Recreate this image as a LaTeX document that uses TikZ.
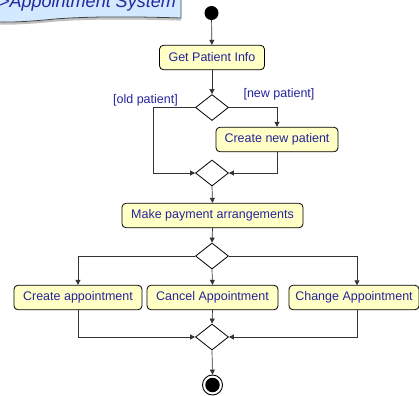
\documentclass[tikz,border=0pt]{standalone}
\usepackage{fontspec}
\setmainfont{Liberation Sans}
\usetikzlibrary{shapes.geometric,arrows.meta}
\definecolor{actfill}{HTML}{FFFFC6}
\definecolor{labelblue}{HTML}{25259C}
\definecolor{notefill}{HTML}{D3E9FF}
\tikzset{
  action/.style={draw=black, line width=0.8bp, fill=actfill, rounded corners=4bp,
    minimum height=24.5bp, inner sep=0pt, text=labelblue,
    font=\fontsize{12.5bp}{15bp}\selectfont},
  branch/.style={draw=black, line width=0.8bp, fill=white, diamond, inner sep=0pt,
    minimum width=33bp, minimum height=26bp},
  guard/.style={text=labelblue, inner sep=0pt, font=\fontsize{12.5bp}{15bp}\selectfont},
  flow/.style={draw=black!80, line width=0.7bp, -{Triangle[length=5bp,width=5bp]}},
  link/.style={draw=black!80, line width=0.7bp}
}
\begin{document}
\begin{tikzpicture}[x=1bp,y=-1bp]
\useasboundingbox (0,0) rectangle (419,396);
\clip (0,0) rectangle (419,396);
\fill[white] (0,0) rectangle (419,396);

% package note in the top left corner
\draw[black!25, line width=2.2bp] (181,19.5) .. controls (120,17.5) and (80,18.5) .. (55,20.5)
  .. controls (35,22.5) and (15,24) .. (-3,23.5);
\filldraw[fill=notefill, draw=black!75, line width=0.8bp]
  (-3,-5) -- (181,-5) -- (181,18) .. controls (120,16) and (80,17) .. (55,19)
  .. controls (35,21) and (15,22.5) .. (-3,22) -- cycle;
\node[anchor=base west, inner sep=0pt, text=labelblue,
  font=\fontsize{18bp}{21bp}\selectfont\itshape] (title) at (-1,7.5) {>Appointment System};

% nodes
\node[circle, fill=black, minimum size=14bp, inner sep=0pt] (start) at (211.5,13) {};
\node[action, minimum width=105bp] (getinfo) at (212,57.5) {Get Patient Info};
\node[branch] (d1) at (212,107.5) {};
\node[action, minimum width=122bp] (newpat) at (277,139.5) {Create new patient};
\node[branch] (m1) at (212,173) {};
\node[action, minimum width=181bp] (pay) at (212.5,215.5) {Make payment arrangements};
\node[branch] (d2) at (212,256) {};
\node[action, minimum width=128bp] (create) at (78,297.5) {Create appointment};
\node[action, minimum width=131bp] (cancel) at (212.5,297.5) {Cancel Appointment};
\node[action, minimum width=130bp] (change) at (354,297.5) {Change Appointment};
\node[branch] (m2) at (212,337) {};
\node[circle, draw=black, line width=0.9bp, fill=white, minimum size=20bp, inner sep=0pt] (stop) at (212.5,385) {};
\node[circle, fill=black, minimum size=14.5bp, inner sep=0pt] (stopdot) at (stop.center) {};

% guard labels
\node[guard] (oldlbl) at (145.5,100.5) {[old patient]};
\node[guard] (newlbl) at (279,94.5) {[new patient]};

% helper points for the bent connectors
\coordinate (oldc) at (153,107.5);
\coordinate (chgtop) at (357,285.25);
\coordinate (chgbot) at (357,309.75);

% connectors
\draw[flow] (start) -- (getinfo);
\draw[flow] (getinfo) -- (d1);
\draw[link] (d1.west) -- (oldc);
\draw[flow] (oldc) |- (m1.west);
\draw[flow] (d1.east) -| (newpat.north);
\draw[flow] (newpat.south) |- (m1.east);
\draw[flow] (m1.south) -- (pay.north);
\draw[flow] (pay.south) -- (d2.north);
\draw[flow] (d2.west) -| (create.north);
\draw[flow] (d2.south) -- (cancel.north);
\draw[flow] (d2.east) -| (chgtop);
\draw[flow] (create.south) |- (m2.west);
\draw[flow] (cancel.south) -- (m2.north);
\draw[flow] (chgbot) |- (m2.east);
\draw[flow] (m2.south) -- (stop.north);
\end{tikzpicture}
\end{document}
